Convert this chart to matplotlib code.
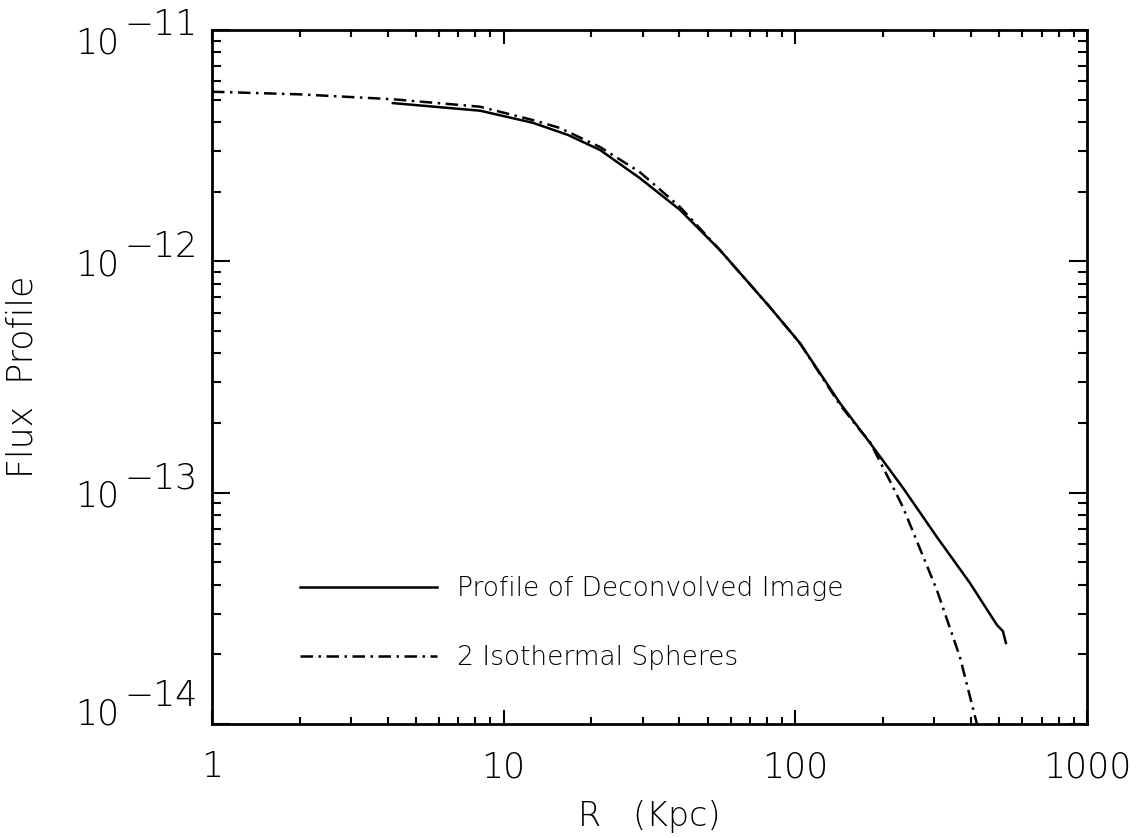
import matplotlib
matplotlib.use("Agg")
import matplotlib.pyplot as plt
import matplotlib.transforms as mtransforms
from matplotlib.ticker import LogLocator, NullFormatter
import numpy as np

# ---- data ----
r_profile = [4.17, 8.29, 12.6, 16.6, 21.4, 29.3, 40.2, 55.1, 81.8, 103.7, 142.2,
             180.3, 233.8, 305.8, 396.8, 491.1, 514.8, 527.2]
flux_profile = [4.83e-12, 4.48e-12, 3.97e-12, 3.52e-12, 3.03e-12, 2.29e-12, 1.67e-12,
                1.12e-12, 6.34e-13, 4.43e-13, 2.44e-13, 1.64e-13, 1.05e-13, 6.43e-14,
                4.07e-14, 2.68e-14, 2.52e-14, 2.24e-14]

r_model = [1.0, 2.0, 4.17, 8.29, 12.6, 15.6, 21.4, 29.3, 40.2, 55.1, 81.8, 103.7,
           142.2, 166.5, 180.3, 214.4, 233.8, 305.8, 366.6, 419.4]
flux_model = [5.41e-12, 5.27e-12, 5.02e-12, 4.66e-12, 4.08e-12, 3.77e-12, 3.12e-12,
              2.43e-12, 1.72e-12, 1.12e-12, 6.34e-13, 4.43e-13, 2.40e-13, 1.865e-13,
              1.655e-13, 1.08e-13, 8.66e-14, 3.79e-14, 1.95e-14, 1.0e-14]

label_profile = "Profile of Deconvolved Image"
label_model = "2 Isothermal Spheres"
ytick_exponents = [-14, -13, -12, -11]
xtick_values = [1, 10, 100, 1000]
xtick_labels = ["1", "10", "100", "1000"]

plt.rcParams['font.family'] = ["DejaVu Sans"]
plt.rcParams['font.weight'] = 'light'
plt.rcParams['axes.labelweight'] = 'light'

W, H = 1138, 838
fig = plt.figure(figsize=(W / 100, H / 100), dpi=100)
ax = fig.add_axes([212 / W, (H - 724) / H, 875 / W, 694 / H])

ax.set_xscale('log')
ax.set_yscale('log')
ax.set_xlim(1, 1000)
ax.set_ylim(1e-14, 1e-11)

lw = 1.8
ax.plot(r_profile, flux_profile, color='black', lw=lw, label=label_profile)
ax.plot(r_model, flux_model, color='black', lw=lw, dashes=(5, 2.2, 1, 2.2),
        label=label_model)

for s in ax.spines.values():
    s.set_linewidth(2.0)

ax.set_xticks(xtick_values)
ax.set_xticklabels(xtick_labels)
ax.xaxis.set_minor_locator(LogLocator(base=10, subs=np.arange(2, 10)))
ax.xaxis.set_minor_formatter(NullFormatter())
ax.yaxis.set_major_locator(LogLocator(base=10))
ax.yaxis.set_minor_locator(LogLocator(base=10, subs=np.arange(2, 10)))
ax.yaxis.set_major_formatter(NullFormatter())
ax.yaxis.set_minor_formatter(NullFormatter())

ax.tick_params(axis='both', which='both', direction='in', top=True, right=True,
               width=1.5, colors='black')
ax.tick_params(axis='x', which='major', length=10, labelsize=25, pad=19)
ax.tick_params(axis='x', which='minor', length=5)
ax.tick_params(axis='y', which='major', length=13)
ax.tick_params(axis='y', which='minor', length=6.5)

# y tick labels: "10" with a full-size exponent, as in the original
# (end labels are nudged inwards like in the reference)
y_nudge = {-14: 14, -13: 0, -12: 0, -11: -9}
trans = mtransforms.blended_transform_factory(ax.transAxes, ax.transData)
for e in ytick_exponents:
    v = 10.0 ** e
    dy = y_nudge[e]
    ax.annotate("10", xy=(0, v), xycoords=trans, xytext=(-93, -14 + dy),
                textcoords='offset pixels', ha='right', va='baseline', fontsize=25)
    ax.annotate("\u2212" + str(abs(e)), xy=(0, v), xycoords=trans, xytext=(-88, 4 + dy),
                textcoords='offset pixels', ha='left', va='baseline', fontsize=25)

ax.set_xlabel("R   (Kpc)", fontsize=24, labelpad=11)
ax.set_ylabel("Flux  Profile", fontsize=25, labelpad=121)

leg = ax.legend(loc='center left', bbox_to_anchor=((300 - 212) / 875, (724 - 623) / 694),
                frameon=False, fontsize=19, handlelength=5.2, handletextpad=0.76,
                labelspacing=1.65, borderpad=0, borderaxespad=0)

fig.savefig("out.png", dpi=100)
